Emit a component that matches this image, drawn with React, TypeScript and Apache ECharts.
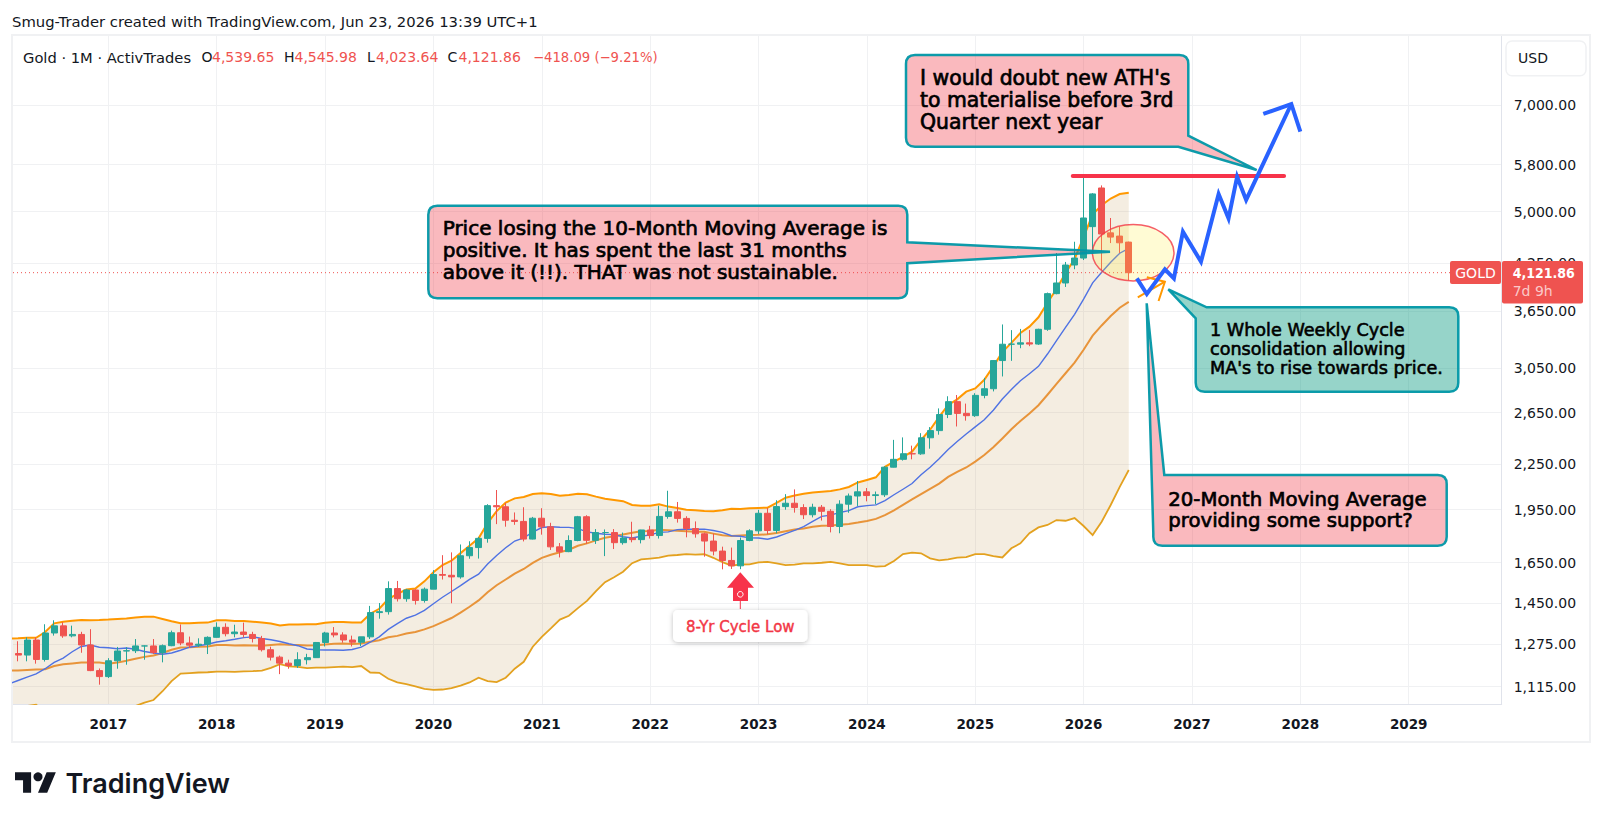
import React, { useEffect, useRef } from "react";
import * as echarts from "echarts";

// All monthly x values are months counted from January 2017.
const FIRST_CANDLE_MONTH = -10; // March 2016
const FIRST_LINE_MONTH = -11; // February 2016
const YEAR_TICKS = [0, 12, 24, 36, 48, 60, 72, 84, 96, 108, 120, 132, 144];
const PRICE_TICKS = [1115, 1275, 1450, 1650, 1950, 2250, 2650, 3050, 3650, 4250, 5000, 5800, 7000];

// [open, close, low, high]
const candles2016 = [[1238,1232,1208,1287],[1232,1292,1208,1303],[1292,1215,1199,1303],[1215,1321,1207,1358],[1321,1351,1310,1375],[1351,1309,1301,1367],[1309,1315,1303,1352],[1315,1272,1241,1326],[1272,1173,1171,1337],[1173,1151,1122,1181]];
const candles2017 = [[1151,1210,1146,1220],[1210,1248,1180,1264],[1248,1249,1195,1263],[1249,1268,1240,1296],[1268,1268,1214,1270],[1268,1242,1236,1296],[1242,1269,1204,1274],[1269,1322,1267,1331],[1322,1280,1271,1357],[1280,1271,1260,1306],[1271,1275,1264,1299],[1275,1303,1236,1307]];
const candles2018 = [[1303,1345,1302,1366],[1345,1318,1307,1362],[1318,1325,1303,1356],[1325,1315,1302,1365],[1315,1298,1282,1326],[1298,1253,1246,1309],[1253,1224,1211,1265],[1224,1201,1160,1230],[1201,1192,1180,1214],[1192,1214,1183,1243],[1214,1222,1196,1237],[1222,1282,1221,1284]];
const candles2019 = [[1282,1321,1266,1326],[1321,1313,1303,1346],[1313,1292,1281,1324],[1292,1283,1266,1310],[1283,1305,1267,1305],[1305,1409,1296,1439],[1409,1413,1382,1452],[1413,1520,1400,1555],[1520,1472,1459,1557],[1472,1513,1458,1518],[1513,1464,1445,1516],[1464,1517,1454,1525]];
const candles2020 = [[1517,1589,1517,1611],[1589,1585,1564,1689],[1585,1577,1451,1704],[1577,1686,1568,1747],[1686,1730,1670,1765],[1730,1781,1671,1789],[1781,1975,1757,1984],[1975,1968,1863,2075],[1968,1886,1848,1992],[1886,1879,1859,1933],[1879,1777,1764,1965],[1777,1898,1775,1906]];
const candles2021 = [[1898,1847,1802,1959],[1847,1734,1717,1871],[1734,1708,1677,1755],[1708,1769,1705,1798],[1769,1907,1765,1912],[1907,1770,1751,1916],[1770,1814,1750,1834],[1814,1814,1684,1832],[1814,1757,1722,1834],[1757,1783,1746,1814],[1783,1774,1759,1877],[1774,1829,1753,1830]];
const candles2022 = [[1829,1797,1780,1853],[1797,1909,1780,1974],[1909,1937,1895,2070],[1937,1897,1872,1998],[1897,1837,1787,1910],[1837,1807,1785,1879],[1807,1766,1681,1814],[1766,1711,1688,1808],[1711,1661,1615,1735],[1661,1633,1617,1730],[1633,1769,1616,1786],[1769,1824,1765,1833]];
const candles2023 = [[1824,1928,1805,1949],[1928,1826,1804,1960],[1826,1969,1810,2009],[1969,1990,1950,2048],[1990,1963,1932,2079],[1963,1919,1893,1984],[1919,1965,1903,1987],[1965,1940,1884,1979],[1940,1849,1815,1953],[1849,1984,1810,2009],[1984,2036,1931,2052],[2036,2063,1973,2135]];
const candles2024 = [[2063,2039,2002,2088],[2039,2044,1984,2065],[2044,2230,2030,2236],[2230,2286,2228,2431],[2286,2327,2277,2450],[2327,2326,2286,2387],[2326,2447,2319,2483],[2447,2503,2364,2531],[2503,2634,2471,2685],[2634,2743,2604,2790],[2743,2643,2536,2801],[2643,2624,2583,2726]];
const candles2025 = [[2624,2798,2614,2817],[2798,2857,2772,2956],[2857,3123,2833,3128],[3123,3288,2970,3500],[3288,3289,3120,3438],[3289,3303,3247,3451],[3303,3290,3268,3439],[3290,3447,3281,3453],[3447,3858,3430,3871],[3858,3990,3850,4386],[3990,4223,3940,4264],[4223,4317,4167,4545]];
const candles2026 = [[4317,4899,4290,5593],[4767,5286,4400,5300],[5386,4657,4157,5430],[4674,4612,4526,4899],[4627,4530,4386,4767],[4539.65,4121.86,4023.64,4545.98]];

const ma10 = [1125,1137,1149,1161,1180,1204,1220,1245,1266,1272,1263,
  1261,1257,1260,1255,1246,1240,1235,1240,1251,1263,1269,1275,
  1284,1289,1295,1302,1305,1298,1293,1286,1277,1269,1256,1253,
  1252,1252,1251,1254,1263,1283,1305,1336,1361,1384,1398,1419,
  1449,1479,1506,1534,1565,1591,1642,1687,1729,1766,1784,1816,
  1843,1848,1845,1844,1837,1818,1810,1804,1802,1790,1783,1793,
  1801,1815,1818,1831,1833,1833,1834,1826,1815,1796,1793,1784,
  1783,1776,1789,1808,1827,1848,1879,1909,1917,1933,1944,1968,
  1975,1980,2007,2044,2080,2118,2178,2230,2290,2358,2418,2476,
  2533,2590,2670,2766,2850,2930,2996,3066,3188,3326,3468,3614,
  3792,3991,4128,4259,4383,4451];
const basis20 = [1173,1173,1175,1177,1178,1190,1197,1200,1203,1203,1203,
  1199,1203,1210,1218,1225,1230,1240,1253,1262,1263,1265,1266,
  1272,1272,1270,1271,1270,1269,1272,1275,1273,1272,1270,1271,
  1274,1277,1278,1276,1278,1285,1291,1303,1309,1319,1325,1336,
  1350,1367,1385,1409,1435,1464,1502,1536,1564,1593,1617,1648,
  1675,1691,1705,1718,1740,1753,1770,1785,1793,1803,1813,1821,
  1823,1830,1828,1825,1822,1819,1818,1808,1799,1795,1797,1800,
  1801,1804,1811,1821,1831,1837,1847,1853,1855,1859,1864,1872,
  1882,1894,1917,1946,1980,2014,2048,2082,2117,2163,2197,2228,
  2270,2317,2375,2442,2514,2580,2643,2712,2803,2901,3000,3102,
  3231,3378,3489,3594,3690,3758];
const upperBand = [1298,1299,1301,1301,1325,1362,1369,1373,1376,1375,1376,
  1378,1381,1383,1387,1390,1391,1381,1371,1362,1362,1364,1365,
  1375,1375,1372,1372,1369,1365,1361,1353,1357,1357,1358,1358,
  1364,1368,1368,1366,1366,1404,1426,1470,1495,1515,1520,1555,
  1600,1637,1660,1700,1740,1781,1869,1941,1994,2021,2030,2049,
  2054,2049,2038,2043,2051,2047,2032,2019,2011,2003,1979,1975,
  1975,1984,1969,1960,1949,1946,1942,1941,1946,1956,1954,1959,
  1961,1962,1993,2025,2039,2050,2059,2063,2068,2079,2095,2125,
  2142,2160,2233,2269,2304,2342,2430,2510,2614,2714,2763,2831,
  2860,2939,3066,3207,3302,3407,3476,3580,3748,3915,4117,4305,
  4610,4956,5101,5209,5284,5306];
const lowerBand = [1048,1047,1049,1053,1031,1018,1025,1027,1030,1031,1030,
  1020,1025,1037,1049,1060,1069,1099,1135,1162,1164,1166,1167,
  1169,1169,1168,1170,1171,1173,1183,1197,1189,1187,1182,1184,
  1184,1186,1188,1186,1190,1166,1165,1143,1130,1124,1116,1107,
  1104,1105,1110,1119,1130,1147,1135,1131,1147,1180,1206,1265,
  1305,1340,1378,1395,1429,1462,1508,1551,1575,1603,1647,1667,
  1671,1676,1687,1690,1695,1692,1694,1675,1652,1634,1640,1641,
  1651,1654,1646,1637,1639,1646,1646,1649,1654,1646,1637,1637,
  1637,1629,1632,1658,1695,1703,1699,1672,1662,1667,1676,1679,
  1695,1695,1684,1677,1726,1753,1810,1844,1858,1887,1883,1899,
  1852,1800,1877,1979,2096,2210];

const LAST_PRICE = 4121.86;
const X_MIN = -10.56;
const X_MAX = 154.3;
const Y_MIN = 1055.6;
const Y_MAX = 8704;
const PRICE_LINE_END = 148.6;

// Drawn forecast: [month, price]
const forecastPath = [[113.9,4049],[115,3853],[117,4166],[118,4049],[119,4691],[121,4267],[122.95,5284],[124.05,4894],[125,5581],[126,5186],[131,7022]];
const forecastHead = [[127.9,6804],[131,7022],[132,6434]];
const orangeArrow = [[114,3814],[117,4006]];
const orangeHead = [[115,4062],[117,4006],[116.3,3769]];
const athLine = [[106.8,5595],[130.2,5595]];

const TITLE = "Smug-Trader created with TradingView.com, Jun 23, 2026 13:39 UTC+1";
const LEGEND_NAME = "Gold · 1M · ActivTrades";
const CALLOUT_ATH = ["I would doubt new ATH's", "to materialise before 3rd", "Quarter next year"];
const CALLOUT_MA10 = ["Price losing the 10-Month Moving Average is", "positive. It has spent the last 31 months", "above it (!!). THAT was not sustainable."];
const CALLOUT_CYCLE = ["1 Whole Weekly Cycle", "consolidation allowing", "MA's to rise towards price."];
const CALLOUT_MA20 = ["20-Month Moving Average", "providing some support?"];

const FONT = '"DejaVu Sans", sans-serif';
const COND = '"DejaVu Sans Condensed", "DejaVu Sans", sans-serif';
const UP = "#26a69a";
const DOWN = "#ef5350";
const GRID = "#f0f1f3";

type P = [number, number];
function calloutPath(l: number, t: number, r: number, b: number, rr: number, at: string, tail: P[]) {
  const pts = (a: P[]) => a.map((p) => `L${p[0]} ${p[1]}`).join("");
  let d = at === "tl" ? `M${tail[0][0]} ${tail[0][1]}` + pts(tail.slice(1)) : `M${l} ${t + rr}Q${l} ${t} ${l + rr} ${t}`;
  d += `L${r - rr} ${t}Q${r} ${t} ${r} ${t + rr}`;
  if (at === "right") d += pts(tail);
  if (at === "br") d += pts(tail);
  else d += `L${r} ${b - rr}Q${r} ${b} ${r - rr} ${b}`;
  d += `L${l + rr} ${b}Q${l} ${b} ${l} ${b - rr}Z`;
  return d;
}

const SHAPES: Record<string, string> = {
  calloutAth: calloutPath(906, 55, 1188.3, 146.7, 9, "br", [[1188.3, 135.7], [1256.7, 170], [1178.3, 146.7]]),
  calloutMa10: calloutPath(428.3, 205.7, 907.3, 298.3, 9, "right", [[907.3, 242.3], [1110, 251.7], [907.3, 263.3]]),
  calloutCycle: calloutPath(1195.7, 307.3, 1458.3, 391.7, 9, "tl", [[1195.7, 318.3], [1168.3, 289.3], [1206.7, 307.3]]),
  calloutMa20: calloutPath(1153.3, 475, 1446.7, 545.7, 9, "tl", [[1153.3, 533], [1146.7, 303.3], [1164.3, 475]]),
  tvMark: "M14 22H7V11H0V4h14v18zM28 22h-8l7.5-18h8L28 22z",
  cycleArrow: "M740.3 572.3L754 587.7L748 587.7L748 601L733 601L733 587.7L727 587.7Z",
};
Object.keys(SHAPES).forEach((k) => echarts.graphic.registerShape(k, echarts.graphic.extendPath(SHAPES[k], {})));

const txt = (text: string, x: number, y: number, font: string, fill: string, z = 30, align = "left", strokeW = 0) => ({
  type: "text", z, silent: true,
  style: {
    text, x, y, font, fill, textAlign: align, align, verticalAlign: "middle", textVerticalAlign: "middle",
    ...(strokeW ? { stroke: fill, lineWidth: strokeW } : {}),
  },
});
const PINK = "rgba(242,54,69,0.35)";
const TEAL_LINE = "rgba(0,151,167,0.95)";
const shape = (type: string, fill: string) => ({
  type, x: 0, y: 0, z: 20, silent: true, style: { fill, stroke: TEAL_LINE, lineWidth: 2.5 },
});

function buildGraphics() {
  const LF = `14px ${FONT}`;
  const legendValues: [string, number, string, string][] = [
    ["O", 201.5, "#131722", LF], ["4,539.65", 212, DOWN, LF], ["H", 284, "#131722", LF], ["4,545.98", 294.5, DOWN, LF],
    ["L", 367, "#131722", LF], ["4,023.64", 376, DOWN, LF], ["C", 447.5, "#131722", LF], ["4,121.86", 458.5, DOWN, LF],
    ["−418.09 (−9.21%)", 533, DOWN, `13.2px ${FONT}`],
  ];
  return [
    { type: "rect", z: 1, silent: true, shape: { x: 12, y: 35, width: 1578, height: 707 }, style: { fill: "none", stroke: GRID, lineWidth: 2 } },
    txt(TITLE, 12, 21, `14.8px ${FONT}`, "#131722"),
    txt(LEGEND_NAME, 23, 57, `14.7px ${FONT}`, "#131722"),
    ...legendValues.map((v) => txt(v[0], v[1], 57, v[3], v[2])),
    { type: "rect", z: 30, silent: true, shape: { x: 1506, y: 41, width: 80, height: 34.7, r: 6 }, style: { fill: "#fff", stroke: GRID, lineWidth: 1.5 } },
    txt("USD", 1518, 58.3, LF, "#131722", 31),
    { type: "ellipse", z: 5, silent: true, shape: { cx: 1133.2, cy: 252.8, rx: 40.8, ry: 28.2 }, style: { fill: "rgba(255,235,59,0.22)", stroke: "rgba(242,54,69,0.8)", lineWidth: 1.5 } },
    shape("calloutAth", PINK), ...CALLOUT_ATH.map((s, i) => txt(s, 920, 78 + i * 22, `20.4px ${FONT}`, "#000", 30, "left", 0.7)),
    shape("calloutMa10", PINK), ...CALLOUT_MA10.map((s, i) => txt(s, 442.7, 228 + i * 22, `20px ${FONT}`, "#000", 30, "left", 0.7)),
    shape("calloutCycle", "rgba(0,150,125,0.41)"), ...CALLOUT_CYCLE.map((s, i) => txt(s, 1210, 329.5 + i * 19, `17.6px ${FONT}`, "#000", 30, "left", 0.6)),
    shape("calloutMa20", PINK), ...CALLOUT_MA20.map((s, i) => txt(s, 1168.3, 499 + i * 21.5, `19.7px ${FONT}`, "#000", 30, "left", 0.7)),
    { type: "cycleArrow", x: 0, y: 0, z: 20, silent: true, style: { fill: "#f7334a" } },
    { type: "line", z: 20, silent: true, shape: { x1: 740.3, y1: 601, x2: 740.3, y2: 609 }, style: { stroke: "#f7334a", lineWidth: 1 } },
    { type: "circle", z: 21, silent: true, shape: { cx: 740.3, cy: 594.3, r: 2.8 }, style: { fill: "none", stroke: "#fff", lineWidth: 1 } },
    { type: "rect", z: 20, silent: true, shape: { x: 673, y: 610, width: 134.5, height: 32, r: 5 }, style: { fill: "#fff", shadowBlur: 5, shadowOffsetY: 1, shadowColor: "rgba(0,0,0,0.25)" } },
    txt("8-Yr Cycle Low", 740.3, 626.5, `15px ${FONT}`, "#f23645", 21, "center", 0.4),
    { type: "rect", z: 30, silent: true, shape: { x: 1450, y: 261, width: 51, height: 23, r: 2 }, style: { fill: DOWN } },
    txt("GOLD", 1475.5, 273, LF, "#fff", 31, "center"),
    { type: "rect", z: 30, silent: true, shape: { x: 1502, y: 261, width: 81, height: 42.5, r: 2 }, style: { fill: DOWN } },
    txt("4,121.86", 1512.7, 272.5, `bold 14px ${COND}`, "#fff", 31),
    txt("7d 9h", 1512.7, 291, LF, "rgba(255,255,255,0.7)", 31),
    { type: "tvMark", x: 15, y: 767.8, scaleX: 1.15, scaleY: 1.13, z: 30, silent: true, style: { fill: "#131722" } },
    { type: "circle", z: 30, silent: true, shape: { cx: 15 + 20 * 1.15, cy: 767.8 + 8 * 1.13, r: 4.5 }, style: { fill: "#131722" } },
    txt("TradingView", 65.5, 783, '600 27px Inter, "Noto Sans", sans-serif', "#131722"),
  ];
}

const months = (arr: number[]) => arr.map((v, i) => [FIRST_LINE_MONTH + i, v]);
const lineSeries = (data: number[][], color: string, width: number, z: number, extra: any = {}) => ({
  type: "line", data, symbol: "none", showSymbol: false, z, silent: true, clip: true,
  lineStyle: { color, width, join: "miter", ...extra },
});

export default function App() {
  const ref = useRef<HTMLDivElement>(null);
  useEffect(() => {
    document.body.style.margin = "0";
    const chart = echarts.init(ref.current!, undefined, { renderer: "svg" });
    const candles = [...candles2016, ...candles2017, ...candles2018, ...candles2019, ...candles2020, ...candles2021, ...candles2022, ...candles2023, ...candles2024, ...candles2025, ...candles2026];
    const bandData = upperBand.map((u, i) => [FIRST_LINE_MONTH + i, u, lowerBand[i]]);
    chart.setOption({
      animation: false,
      backgroundColor: "#fff",
      grid: { left: 13, right: 101.3, top: 36, bottom: 119 },
      xAxis: {
        type: "value", min: X_MIN, max: X_MAX,
        axisLine: { show: true, onZero: false, lineStyle: { color: "#e0e3eb" } },
        axisTick: { show: false, customValues: YEAR_TICKS },
        axisLabel: { customValues: YEAR_TICKS, margin: 13, color: "#131722", fontFamily: FONT, fontWeight: "bold", fontSize: 13.5, formatter: (v: number) => String(2017 + Math.round(v / 12)) },
        splitLine: { show: true, lineStyle: { color: GRID, width: 1 } },
      },
      yAxis: {
        type: "log", position: "right", min: Y_MIN, max: Y_MAX,
        axisLine: { show: true, onZero: false, lineStyle: { color: "#e0e3eb" } },
        axisTick: { show: false, customValues: PRICE_TICKS },
        axisLabel: { customValues: PRICE_TICKS, margin: 12, color: "#131722", fontFamily: FONT, fontSize: 14, formatter: (v: number) => Math.round(v).toLocaleString("en-US") + ".00" },
        splitLine: { show: true, lineStyle: { color: GRID, width: 1 } },
      },
      series: [
        {
          type: "custom", z: 1, clip: true, silent: true, data: bandData, encode: { x: 0, y: [1, 2] },
          renderItem: (params: any, api: any) => {
            if (params.dataIndex !== 0) return null;
            const top = bandData.map((d) => api.coord([d[0], d[1]]));
            const bottom = bandData.map((d) => api.coord([d[0], d[2]])).reverse();
            return { type: "polygon", shape: { points: [...top, ...bottom] }, style: { fill: "rgba(200,165,105,0.2)" } };
          },
        },
        lineSeries(months(upperBand), "#ff9800", 2, 2),
        lineSeries(months(basis20), "#e8943a", 2, 2),
        lineSeries(months(lowerBand), "#e3a11f", 1.8, 2),
        lineSeries(months(ma10), "#4f72e3", 1.4, 2),
        lineSeries([[X_MIN, LAST_PRICE], [PRICE_LINE_END, LAST_PRICE]], DOWN, 1, 2, { type: [1, 3] }),
        {
          type: "candlestick", z: 3, silent: true, barWidth: 6.5, clip: true,
          data: candles.map((c, i) => [FIRST_CANDLE_MONTH + i, ...c]),
          itemStyle: { color: UP, color0: DOWN, borderColor: UP, borderColor0: DOWN, borderWidth: 1 },
        },
        lineSeries(orangeArrow, "#ff9800", 2, 9),
        lineSeries(orangeHead, "#ff9800", 2, 9),
        lineSeries(athLine, "#f7334a", 4, 10, { cap: "round" }),
        lineSeries(forecastPath, "#2962ff", 4, 11),
        lineSeries(forecastHead, "#2962ff", 4, 11),
      ],
      graphic: { elements: buildGraphics() },
    });
    return () => chart.dispose();
  }, []);
  return <div ref={ref} style={{ position: "absolute", left: 0, top: 0, width: 1603, height: 823 }} />;
}
